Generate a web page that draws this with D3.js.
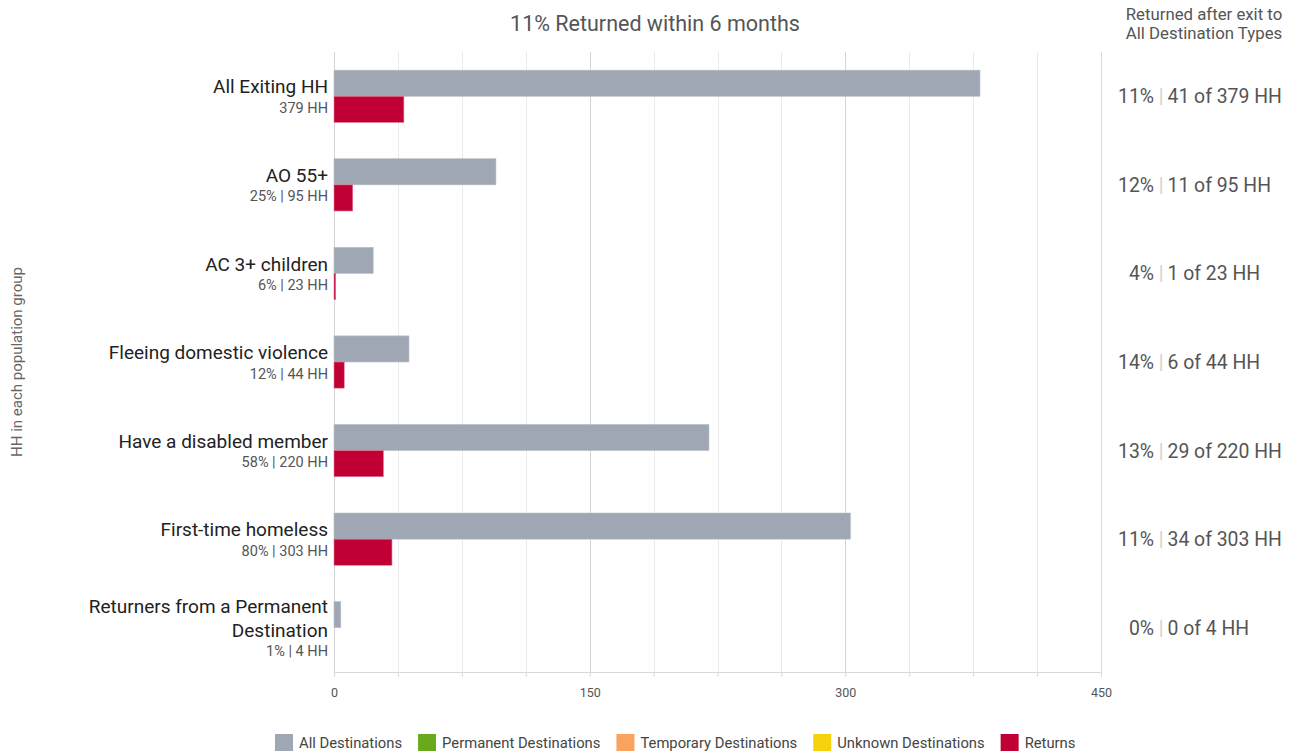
<!DOCTYPE html>
<html>
<head>
<meta charset="utf-8">
<script src="https://cdn.jsdelivr.net/npm/d3@7"></script>
<style>
  html, body { margin: 0; padding: 0; background: #fff; }
  svg { display: block; font-family: Roboto, "Noto Sans", sans-serif; }
</style>
</head>
<body>
<svg id="chart" width="1291" height="751"></svg>
<script>
// Population groups and their counts
const groups = [
  ["All Exiting HH"],
  ["AO 55+"],
  ["AC 3+ children"],
  ["Fleeing domestic violence"],
  ["Have a disabled member"],
  ["First-time homeless"],
  ["Returners from a Permanent", "Destination"]
];
const subLabels = ["379 HH", "25% | 95 HH", "6% | 23 HH", "12% | 44 HH", "58% | 220 HH", "80% | 303 HH", "1% | 4 HH"];
const allDestinations = [379, 95, 23, 44, 220, 303, 4];
const returns = [41, 11, 1, 6, 29, 34, 0];
const returnPct = ["11%", "12%", "4%", "14%", "13%", "11%", "0%"];
const xTicks = [0, 150, 300, 450];

const legendItems = [
  { name: "All Destinations", color: "#9ea7b3" },
  { name: "Permanent Destinations", color: "#6aa91c" },
  { name: "Temporary Destinations", color: "#f9a35f" },
  { name: "Unknown Destinations", color: "#f7d10c" },
  { name: "Returns", color: "#c00034" }
];

const svg = d3.select("#chart");
const plotLeft = 334, plotRight = 1101, plotTop = 52, plotBottom = 672;

const x = d3.scaleLinear().domain([0, 450]).range([plotLeft, plotRight]);
const y = d3.scaleBand().domain(d3.range(groups.length)).range([plotTop, plotBottom]).paddingInner(0.41).paddingOuter(0.205);
const sub = d3.scaleBand().domain(["all", "ret"]).range([0, y.bandwidth()]);

// Title and right-column header
svg.append("text").attr("x", 655).attr("y", 30.5).attr("text-anchor", "middle")
  .attr("font-size", 21.5).attr("fill", "#555").text("11% Returned within 6 months");
svg.append("text").attr("x", 1204).attr("y", 20).attr("text-anchor", "middle")
  .attr("font-size", 16.8).attr("fill", "#555").text("Returned after exit to");
svg.append("text").attr("x", 1204).attr("y", 39).attr("text-anchor", "middle")
  .attr("font-size", 16.8).attr("fill", "#555").text("All Destination Types");

// Gridlines: minor every 37.5, major every 150
const gridVals = d3.range(0, 450.01, 37.5);
svg.append("g").selectAll("line").data(gridVals).join("line")
  .attr("x1", d => Math.round(x(d)) + 0.5).attr("x2", d => Math.round(x(d)) + 0.5)
  .attr("y1", plotTop).attr("y2", plotBottom)
  .attr("stroke", d => (d % 150 === 0 ? "#d4d4d4" : "#ebebeb"))
  .attr("stroke-width", 1);

// Bars
const rows = svg.append("g").selectAll("g").data(d3.range(groups.length)).join("g")
  .attr("transform", i => `translate(0,${y(i)})`);
rows.append("rect")
  .attr("x", x(0)).attr("y", sub("all"))
  .attr("width", i => x(allDestinations[i]) - x(0))
  .attr("height", sub.bandwidth())
  .attr("fill", legendItems[0].color)
  .attr("stroke", "#b9c0c9").attr("stroke-width", 0.6);
rows.append("rect")
  .attr("x", x(0)).attr("y", sub("ret"))
  .attr("width", i => x(returns[i]) - x(0))
  .attr("height", sub.bandwidth())
  .attr("fill", legendItems[4].color)
  .attr("stroke", "#e07a93").attr("stroke-width", 0.6);

// Axis
const axis = d3.axisBottom(x).tickValues(gridVals).tickSize(5)
  .tickFormat(d => xTicks.includes(d) ? d3.format("d")(d) : "");
const ax = svg.append("g").attr("transform", `translate(0,${plotBottom})`).call(axis);
ax.select(".domain").attr("stroke", "#d8d8d8");
ax.selectAll(".tick line").attr("stroke", "#d8d8d8");
ax.selectAll(".tick text").attr("font-size", 12.5).attr("fill", "#555")
  .attr("font-family", "Roboto, sans-serif").attr("dy", "1.35em");

// Right border line of the plot
svg.append("line").attr("x1", plotRight + 0.5).attr("x2", plotRight + 0.5)
  .attr("y1", plotTop).attr("y2", plotBottom).attr("stroke", "#d8d8d8");

// Category labels: name lines plus a smaller sub line, centred on the band
const nameH = 24, subGap = 21, nameSize = 19, subSize = 14.5;
const sepX = 1161;
rows.each(function (i) {
  const g = d3.select(this);
  const c = y.bandwidth() / 2;
  const names = groups[i];
  const span = (names.length - 1) * nameH + subGap;
  const first = c - span / 2 + 1;
  names.forEach((n, k) => {
    g.append("text")
      .attr("x", 328).attr("text-anchor", "end")
      .attr("y", first + k * nameH + nameSize * 0.35)
      .attr("font-size", nameSize).attr("fill", "#222").text(n);
  });
  g.append("text").attr("x", 328).attr("text-anchor", "end")
    .attr("y", first + span + subSize * 0.35)
    .attr("font-size", subSize).attr("fill", "#555").text(subLabels[i]);

  // Right column summary, aligned on the separator
  const ty = c + 7;
  g.append("text").attr("x", sepX - 7).attr("y", ty).attr("text-anchor", "end")
    .attr("font-size", 19.4).attr("fill", "#555").text(returnPct[i]);
  g.append("text").attr("x", sepX).attr("y", ty).attr("text-anchor", "middle")
    .attr("font-size", 19.4).attr("fill", "#cfcfcf").text("|");
  g.append("text").attr("x", sepX + 6.5).attr("y", ty).attr("text-anchor", "start")
    .attr("font-size", 19.4).attr("fill", "#555")
    .text(`${returns[i]} of ${allDestinations[i]} HH`);
});

// Y-axis title
svg.append("text").attr("transform", "translate(22,362) rotate(-90)")
  .attr("text-anchor", "middle").attr("font-size", 15).attr("fill", "#666")
  .text("HH in each population group");

// Legend
const lg = svg.append("g").attr("transform", "translate(275,734)");
let lx = 0;
legendItems.forEach(item => {
  const g = lg.append("g").attr("transform", `translate(${lx},0)`);
  g.append("rect").attr("width", 18).attr("height", 17).attr("fill", item.color);
  const tx = g.append("text").attr("x", 24).attr("y", 14).attr("font-size", 14.8)
    .attr("fill", "#444").text(item.name);
  lx += 24 + tx.node().getComputedTextLength() + 16;
});
</script>
</body>
</html>
